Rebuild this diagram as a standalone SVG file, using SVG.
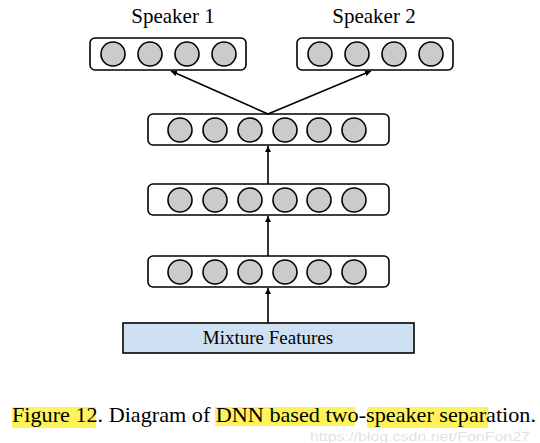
<svg xmlns="http://www.w3.org/2000/svg" width="540" height="443" viewBox="0 0 540 443">
<style>
.box{fill:#fff;stroke:#000;stroke-width:1.6}
.unit{fill:#cbcbcb;stroke:#000;stroke-width:1.6}
.conn{stroke:#000;stroke-width:1.6;fill:none}
.lbl{font-family:"Liberation Serif","Times New Roman",serif;fill:#000}
.hl{fill:#fff35a}
</style>
<defs>
<marker id="ah" viewBox="0 0 10 10" refX="10" refY="5" markerWidth="6" markerHeight="6" orient="auto" markerUnits="userSpaceOnUse">
<path d="M0,0 L10,5 L0,10 z" fill="#000"/>
</marker>
</defs>
<rect width="540" height="443" fill="#fff"/>

<g id="speaker1">
<text class="lbl" x="173" y="23" font-size="21" text-anchor="middle">Speaker 1</text>
<rect class="box" x="90" y="38" width="156" height="32" rx="5"/>
<circle class="unit" cx="113" cy="54" r="12"/>
<circle class="unit" cx="150" cy="54" r="12"/>
<circle class="unit" cx="187" cy="54" r="12"/>
<circle class="unit" cx="224" cy="54" r="12"/>
</g>

<g id="speaker2">
<text class="lbl" x="374" y="23" font-size="21" text-anchor="middle">Speaker 2</text>
<rect class="box" x="297" y="38" width="156" height="32" rx="5"/>
<circle class="unit" cx="320" cy="54" r="12"/>
<circle class="unit" cx="357" cy="54" r="12"/>
<circle class="unit" cx="394" cy="54" r="12"/>
<circle class="unit" cx="431" cy="54" r="12"/>
</g>

<g id="hidden3">
<rect class="box" x="148" y="114" width="241" height="31" rx="5"/>
<circle class="unit" cx="180" cy="130" r="12"/>
<circle class="unit" cx="215" cy="130" r="12"/>
<circle class="unit" cx="250" cy="130" r="12"/>
<circle class="unit" cx="285" cy="130" r="12"/>
<circle class="unit" cx="319" cy="130" r="12"/>
<circle class="unit" cx="354" cy="130" r="12"/>
</g>

<g id="hidden2">
<rect class="box" x="148" y="184" width="241" height="31" rx="5"/>
<circle class="unit" cx="180" cy="200" r="12"/>
<circle class="unit" cx="215" cy="200" r="12"/>
<circle class="unit" cx="250" cy="200" r="12"/>
<circle class="unit" cx="285" cy="200" r="12"/>
<circle class="unit" cx="319" cy="200" r="12"/>
<circle class="unit" cx="354" cy="200" r="12"/>
</g>

<g id="hidden1">
<rect class="box" x="148" y="256" width="241" height="31" rx="5"/>
<circle class="unit" cx="180" cy="272" r="12"/>
<circle class="unit" cx="215" cy="272" r="12"/>
<circle class="unit" cx="250" cy="272" r="12"/>
<circle class="unit" cx="285" cy="272" r="12"/>
<circle class="unit" cx="319" cy="272" r="12"/>
<circle class="unit" cx="354" cy="272" r="12"/>
</g>

<g id="input">
<rect x="123" y="323" width="291" height="30" fill="#cfe0f3" stroke="#000" stroke-width="1.6"/>
<text class="lbl" x="268" y="344" font-size="19" text-anchor="middle">Mixture Features</text>
</g>

<g id="connectors">
<line class="conn" x1="268" y1="323" x2="268" y2="288" marker-end="url(#ah)"/>
<line class="conn" x1="268" y1="256" x2="268" y2="216" marker-end="url(#ah)"/>
<line class="conn" x1="268" y1="184" x2="268" y2="146" marker-end="url(#ah)"/>
<line class="conn" x1="268" y1="114" x2="171" y2="71" marker-end="url(#ah)"/>
<line class="conn" x1="268" y1="114" x2="371" y2="71" marker-end="url(#ah)"/>
</g>

<g id="caption">
<rect class="hl" x="12" y="407" width="84" height="21"/>
<rect class="hl" x="215" y="407" width="140" height="19"/>
<rect class="hl" x="367" y="407" width="121" height="21"/>
<text class="lbl" x="12" y="422" font-size="21" textLength="524" lengthAdjust="spacingAndGlyphs">Figure 12. Diagram of DNN based two-speaker separation.</text>
<text x="310" y="441" font-family="Liberation Sans, Arial, sans-serif" font-size="12" fill="#d8d8d8" fill-opacity="0.75" textLength="220" lengthAdjust="spacingAndGlyphs">https://blog.csdn.net/FonFon27</text>
</g>
</svg>
